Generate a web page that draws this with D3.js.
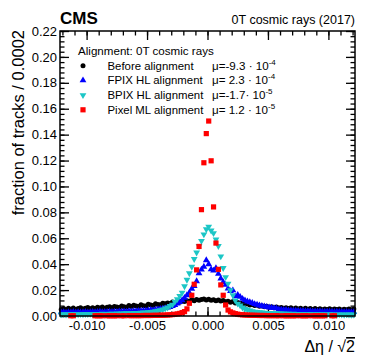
<!DOCTYPE html>
<html>
<head>
<meta charset="utf-8">
<script src="https://cdn.jsdelivr.net/npm/d3@7"></script>
<style>
  body { margin: 0; background: #fff; }
  text { font-family: "Liberation Sans", Arial, Helvetica, sans-serif; fill: #000; }
</style>
</head>
<body>
<div id="chart"></div>
<script>
// histogram bins: first bin centre and width
var binStart = -0.0121;
var binWidth = 0.0002;

var beforeAlign = [
  0.0051, 0.0058, 0.0049, 0.0060, 0.0053, 0.0062, 0.0050, 0.0057, 0.0063, 0.0055,
  0.0060, 0.0066, 0.0056, 0.0064, 0.0058, 0.0068, 0.0061, 0.0069, 0.0059, 0.0067,
  0.0072, 0.0063, 0.0074, 0.0070, 0.0065, 0.0077, 0.0071, 0.0068, 0.0081, 0.0073,
  0.0083, 0.0077, 0.0074, 0.0087, 0.0080, 0.0078, 0.0091, 0.0085, 0.0082, 0.0094,
  0.0089, 0.0086, 0.0099, 0.0095, 0.0101, 0.0097, 0.0108, 0.0100, 0.0112, 0.0106,
  0.0115, 0.0111, 0.0118, 0.0114, 0.0125, 0.0117, 0.0128, 0.0122, 0.0127, 0.0131,
  0.0124, 0.0129, 0.0121, 0.0126, 0.0118, 0.0123, 0.0115, 0.0119, 0.0110, 0.0114,
  0.0107, 0.0111, 0.0101, 0.0105, 0.0096, 0.0100, 0.0090, 0.0094, 0.0085, 0.0089,
  0.0081, 0.0084, 0.0076, 0.0080, 0.0071, 0.0075, 0.0068, 0.0072, 0.0064, 0.0069,
  0.0061, 0.0066, 0.0059, 0.0064, 0.0057, 0.0063, 0.0055, 0.0061, 0.0054, 0.0060,
  0.0053, 0.0059, 0.0052, 0.0058, 0.0050, 0.0057, 0.0051, 0.0056, 0.0049, 0.0055,
  0.0050, 0.0056, 0.0048, 0.0054, 0.0050, 0.0055, 0.0047, 0.0053, 0.0049, 0.0055,
  0.0048, 0.0054
];

var fpixHL = [
  0.0028, 0.0030, 0.0026, 0.0029, 0.0027, 0.0031, 0.0028, 0.0030, 0.0027, 0.0029,
  0.0031, 0.0028, 0.0030, 0.0032, 0.0029, 0.0031, 0.0033, 0.0030, 0.0032, 0.0031,
  0.0033, 0.0031, 0.0034, 0.0032, 0.0035, 0.0033, 0.0036, 0.0034, 0.0037, 0.0036,
  0.0038, 0.0037, 0.0040, 0.0039, 0.0042, 0.0041, 0.0044, 0.0046, 0.0045, 0.0049,
  0.0051, 0.0054, 0.0057, 0.0061, 0.0065, 0.0070, 0.0077, 0.0085, 0.0096, 0.0108,
  0.0122, 0.0140, 0.0160, 0.0180, 0.0210, 0.0232, 0.0268, 0.0330, 0.0358, 0.0380,
  0.0430, 0.0400, 0.0360, 0.0350, 0.0370, 0.0325, 0.0290, 0.0262, 0.0240, 0.0212,
  0.0192, 0.0198, 0.0152, 0.0162, 0.0148, 0.0132, 0.0121, 0.0112, 0.0106, 0.0100,
  0.0092, 0.0087, 0.0081, 0.0077, 0.0073, 0.0070, 0.0066, 0.0064, 0.0061, 0.0059,
  0.0050, 0.0049, 0.0047, 0.0046, 0.0044, 0.0043, 0.0042, 0.0041, 0.0040, 0.0040,
  0.0039, 0.0038, 0.0038, 0.0037, 0.0036, 0.0036, 0.0035, 0.0035, 0.0034, 0.0034,
  0.0034, 0.0033, 0.0034, 0.0032, 0.0033, 0.0031, 0.0032, 0.0030, 0.0031, 0.0030,
  0.0029, 0.0030
];

var bpixHL = [
  0.0012, 0.0014, 0.0011, 0.0013, 0.0012, 0.0015, 0.0013, 0.0012, 0.0014, 0.0013,
  0.0015, 0.0014, 0.0016, 0.0013, 0.0015, 0.0016, 0.0014, 0.0017, 0.0016, 0.0015,
  0.0018, 0.0017, 0.0016, 0.0019, 0.0018, 0.0020, 0.0019, 0.0021, 0.0020, 0.0022,
  0.0023, 0.0022, 0.0024, 0.0025, 0.0027, 0.0026, 0.0029, 0.0031, 0.0033, 0.0036,
  0.0040, 0.0045, 0.0050, 0.0058, 0.0065, 0.0078, 0.0088, 0.0110, 0.0130, 0.0155,
  0.0180, 0.0230, 0.0280, 0.0330, 0.0380, 0.0440, 0.0490, 0.0540, 0.0580, 0.0630,
  0.0670, 0.0690, 0.0660, 0.0640, 0.0590, 0.0540, 0.0460, 0.0370, 0.0300, 0.0250,
  0.0200, 0.0160, 0.0120, 0.0095, 0.0082, 0.0065, 0.0055, 0.0048, 0.0042, 0.0037,
  0.0033, 0.0031, 0.0029, 0.0027, 0.0026, 0.0024, 0.0023, 0.0022, 0.0021, 0.0020,
  0.0019, 0.0020, 0.0018, 0.0017, 0.0018, 0.0016, 0.0017, 0.0015, 0.0016, 0.0014,
  0.0015, 0.0014, 0.0013, 0.0015, 0.0012, 0.0014, 0.0013, 0.0012, 0.0013, 0.0011,
  0.0012, 0.0013, 0.0011, 0.0012, 0.0010, 0.0012, 0.0011, 0.0010, 0.0012, 0.0011,
  0.0010, 0.0011
];

// null = empty bin, not drawn
var pixelML = [
  null, null, null, null, 0.0002, 0.0002, null, null, null, null,
  null, null, null, null, 0.0002, 0.0002, 0.0002, 0.0002, null, 0.0002,
  0.0002, 0.0002, 0.0002, 0.0002, null, 0.0002, 0.0002, null, 0.0003, 0.0003,
  0.0003, 0.0003, 0.0003, 0.0003, 0.0004, 0.0004, 0.0004, 0.0004, 0.0005, 0.0005,
  0.0005, 0.0006, 0.0006, 0.0007, 0.0008, 0.0009, 0.0011, 0.0013, 0.0016, 0.0020,
  0.0026, 0.0034, 0.0055, 0.0098, 0.0160, 0.0245, 0.0356, 0.0537, 0.0821, 0.1183,
  0.1408, 0.1505, 0.1198, 0.0842, 0.0563, 0.0360, 0.0240, 0.0160, 0.0085, 0.0046,
  0.0032, 0.0024, 0.0018, 0.0014, 0.0011, 0.0009, 0.0008, 0.0007, 0.0006, 0.0006,
  0.0005, 0.0005, 0.0004, 0.0004, 0.0004, 0.0003, 0.0003, 0.0003, 0.0003, 0.0003,
  0.0002, null, 0.0002, 0.0002, 0.0002, 0.0002, 0.0002, 0.0002, null, 0.0002,
  0.0002, 0.0002, 0.0002, null, 0.0002, 0.0002, 0.0002, 0.0002, 0.0002, 0.0002,
  null, null, 0.0002, 0.0002, null, null, null, null, null, null,
  null, null
];

var seriesNames = ["Before alignment", "FPIX HL alignment", "BPIX HL alignment", "Pixel ML alignment"];
var muText = ["\u03bc=-9.3 \u00b7 10", "\u03bc= 2.3 \u00b7 10", "\u03bc=-1.7\u00b7 10", "\u03bc= 1.2 \u00b7 10"];
var muExp = ["-4", "-4", "-5", "-5"];
var seriesColors = ["#000000", "#0000ff", "#1cc6c6", "#ff0000"];
var seriesShapes = ["circle", "up", "down", "square"];
var seriesData = [beforeAlign, fpixHL, bpixHL, pixelML];

var xMajor = [-0.01, -0.005, 0, 0.005, 0.01];
var yMajor = [0, 0.02, 0.04, 0.06, 0.08, 0.10, 0.12, 0.14, 0.16, 0.18, 0.20, 0.22];

var svgWidth = 374;
var svgHeight = 363;
var margin = {top: 31, right: 19, bottom: 47, left: 60};
var width = svgWidth - margin.left - margin.right;
var height = svgHeight - margin.top - margin.bottom;

var svg = d3.select("#chart")
  .append("svg")
  .attr("width", svgWidth)
  .attr("height", svgHeight);

var g = svg.append("g")
  .attr("transform", `translate(${margin.left}, ${margin.top})`);

var xScale = d3.scaleLinear()
  .domain([-0.0122, 0.0122])
  .range([0, width]);

var yScale = d3.scaleLinear()
  .domain([0, 0.22])
  .range([height, 0]);

var xMinor = d3.range(-12, 13).map(d => d / 1000);
var yMinor = d3.range(0, 56).map(d => d * 0.004);

// ROOT style ticks, pointing inward on all four sides
function ticks(axis, values, size, labels, fmt) {
  return axis.tickValues(values).tickSize(size).tickPadding(labels ? 4 : 0)
    .tickFormat(labels ? fmt : "");
}

var fmtX = d => d.toFixed(3);
var fmtY = d => d.toFixed(2);

var xBot = g.append("g").attr("transform", `translate(0,${height})`)
  .call(ticks(d3.axisBottom(xScale), xMajor, -9, true, fmtX));
xBot.selectAll("text").attr("dy", "0.71em").attr("y", 5);
g.append("g").attr("transform", `translate(0,${height})`)
  .call(ticks(d3.axisBottom(xScale), xMinor, -4.5, false));
g.append("g").call(ticks(d3.axisTop(xScale), xMajor, -9, false));
g.append("g").call(ticks(d3.axisTop(xScale), xMinor, -4.5, false));

var yLeft = g.append("g").call(ticks(d3.axisLeft(yScale), yMajor, -9, true, fmtY));
yLeft.selectAll("text").attr("x", -3);
g.append("g").call(ticks(d3.axisLeft(yScale), yMinor, -4.5, false));
g.append("g").attr("transform", `translate(${width},0)`)
  .call(ticks(d3.axisRight(yScale), yMajor, -9, false));
g.append("g").attr("transform", `translate(${width},0)`)
  .call(ticks(d3.axisRight(yScale), yMinor, -4.5, false));

g.selectAll(".domain").remove();
g.selectAll(".tick line").attr("stroke", "#000").attr("stroke-width", 1.3);
g.selectAll(".tick text").style("font-size", "13px").attr("fill", "#000");

// markers
var triUp = d3.symbol().type(d3.symbolTriangle).size(20);

function drawMarker(sel, shape, color) {
  if (shape === "circle") {
    sel.append("circle").attr("r", 2.5).attr("fill", color);
  } else if (shape === "square") {
    sel.append("rect").attr("x", -2.6).attr("y", -2.6)
      .attr("width", 5.2).attr("height", 5.2).attr("fill", color);
  } else {
    sel.append("path").attr("d", triUp())
      .attr("transform", shape === "down" ? "rotate(180)" : null)
      .attr("fill", color);
  }
}

seriesData.forEach(function(values, s) {
  var pts = values.map((v, i) => ({x: binStart + i * binWidth, y: v}))
    .filter(d => d.y !== null);
  var marks = g.append("g").selectAll("g")
    .data(pts)
    .enter()
    .append("g")
    .attr("transform", d => `translate(${xScale(d.x)},${yScale(d.y)})`);
  drawMarker(marks, seriesShapes[s], seriesColors[s]);
});

// frame
g.append("rect")
  .attr("width", width)
  .attr("height", height)
  .attr("fill", "none")
  .attr("stroke", "#000")
  .attr("stroke-width", 1.5);

// legend
var legend = svg.append("g");
legend.append("text")
  .attr("x", 78).attr("y", 55)
  .style("font-size", "11.6px")
  .text("Alignment: 0T cosmic rays");

seriesNames.forEach(function(name, s) {
  var yb = 69.5 + s * 14.7;
  var m = legend.append("g").attr("transform", `translate(83,${yb - 3.8})`);
  drawMarker(m, seriesShapes[s], seriesColors[s]);
  legend.append("text")
    .attr("x", 107.5).attr("y", yb)
    .style("font-size", "11.4px")
    .text(name);
  var mu = legend.append("text")
    .attr("x", 212).attr("y", yb)
    .style("font-size", "11.6px");
  mu.append("tspan").text(muText[s]);
  mu.append("tspan").attr("dy", -5).style("font-size", "8px").text(muExp[s]);
});

// titles
svg.append("text")
  .attr("x", 60).attr("y", 24)
  .style("font-size", "17px")
  .style("font-weight", "bold")
  .text("CMS");

svg.append("text")
  .attr("x", 355).attr("y", 24)
  .attr("text-anchor", "end")
  .style("font-size", "12.5px")
  .text("0T cosmic rays (2017)");

svg.append("text")
  .attr("transform", "translate(24,30) rotate(-90)")
  .attr("text-anchor", "end")
  .style("font-size", "16.5px")
  .text("fraction of tracks / 0.0002");

var xt = svg.append("text")
  .attr("x", 355).attr("y", 352)
  .attr("text-anchor", "end")
  .style("font-size", "16px");
xt.append("tspan").text("\u0394\u03b7 / \u221a");
xt.append("tspan").style("text-decoration", "overline").text("2");
</script>
</body>
</html>
